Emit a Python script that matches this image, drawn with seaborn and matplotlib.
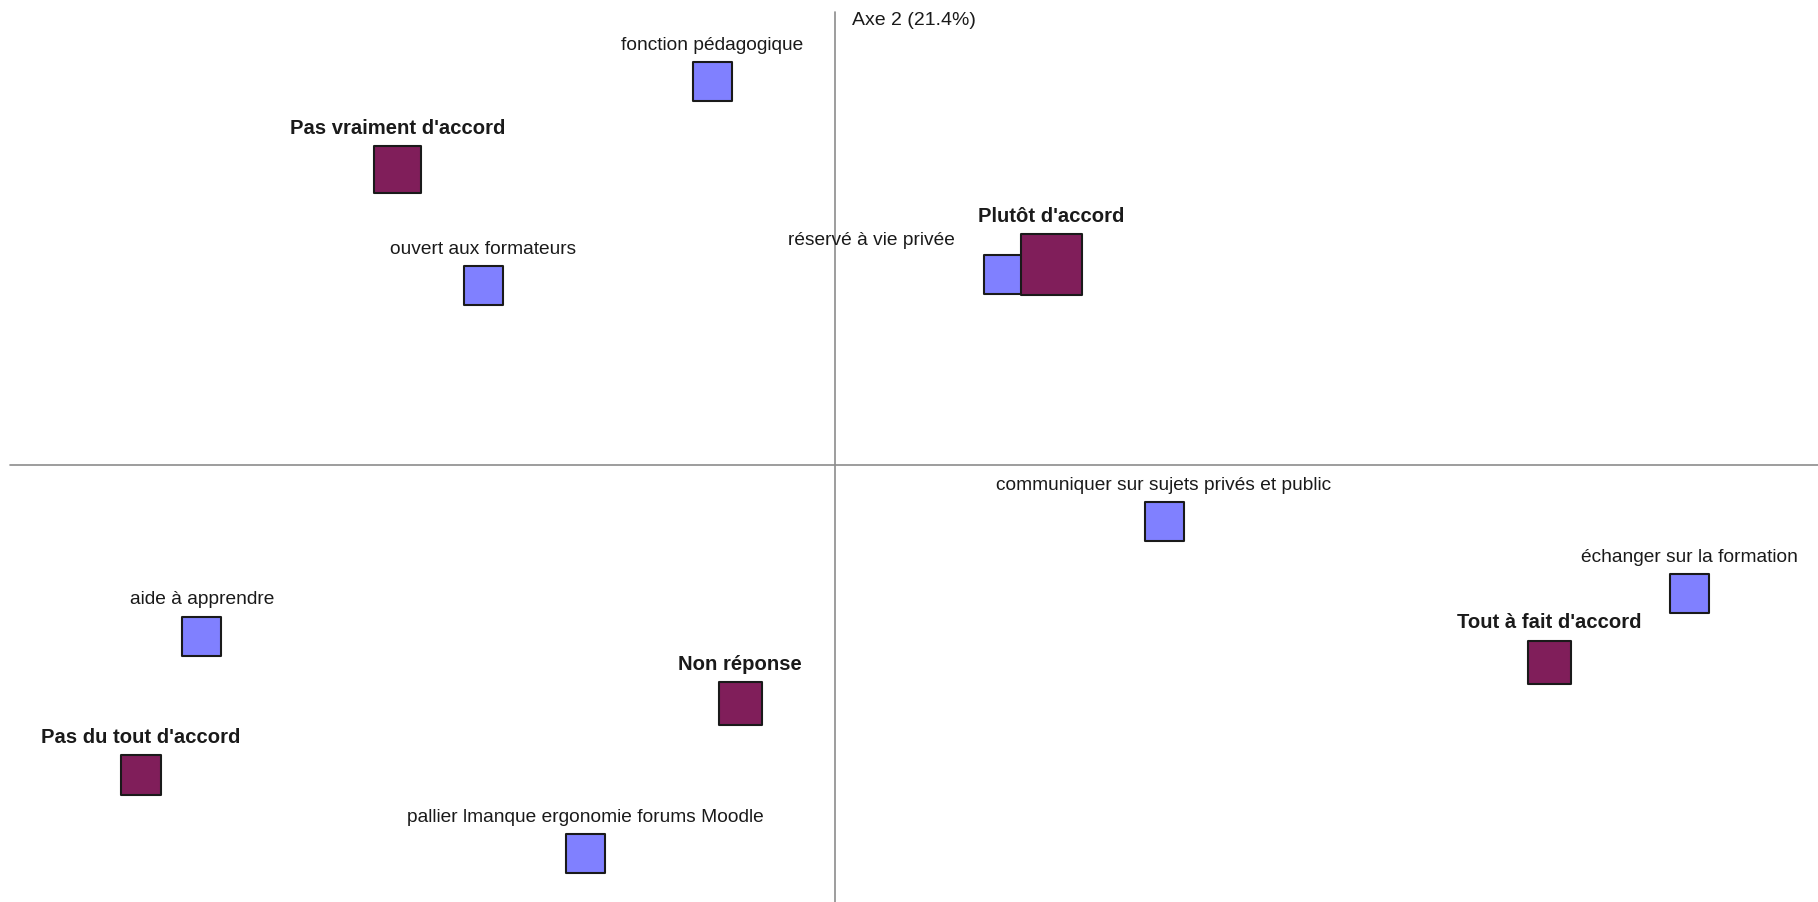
import pandas as pd
import seaborn as sns
import matplotlib.pyplot as plt

# coordonnées factorielles (axe 1 horizontal, axe 2 vertical)
labels = [
    "fonction pédagogique",
    "ouvert aux formateurs",
    "réservé à vie privée",
    "communiquer sur sujets privés et public",
    "échanger sur la formation",
    "aide à apprendre",
    "pallier lmanque ergonomie forums Moodle",
    "Pas vraiment d'accord",
    "Plutôt d'accord",
    "Tout à fait d'accord",
    "Non réponse",
    "Pas du tout d'accord",
]
axe1 = [-0.246, -0.704, 0.336, 0.658, 1.708, -1.266, -0.500,
        -0.874, 0.432, 1.428, -0.190, -1.388]
axe2 = [0.768, 0.360, 0.382, -0.112, -0.256, -0.342, -0.776,
        0.592, 0.402, -0.394, -0.476, -0.620]
groupe = ["modalité"] * 7 + ["réponse"] * 5
poids = [41, 41, 41, 41, 41, 41, 41, 49, 63, 45, 45, 42]

df = pd.DataFrame({"label": labels, "axe1": axe1, "axe2": axe2,
                   "groupe": groupe, "poids": poids})

sns.set_style("white")
plt.rcParams["font.family"] = ["Liberation Sans", "DejaVu Sans"]

px = 0.72  # points par pixel à 100 dpi

fig = plt.figure(figsize=(18.18, 9.02), dpi=100)
ax = fig.add_axes([0, 0, 1, 1])

ax.axhline(0, xmin=10 / 1818, color="#8c8c8c", lw=1.2, zorder=0)
ax.axvline(0, ymax=1 - 12 / 902, color="#8c8c8c", lw=1.2, zorder=0)

sizes = {w: ((w - 2) * px) ** 2 for w in set(poids)}
sns.scatterplot(
    data=df, x="axe1", y="axe2",
    hue="groupe", palette={"modalité": "#8080ff", "réponse": "#801e5a"},
    size="poids", sizes=sizes,
    marker="s", edgecolor="#1a1a1a", linewidth=1.5,
    legend=False, ax=ax, zorder=3,
)

for _, r in df.iterrows():
    bold = r["groupe"] == "réponse"
    if r["label"] == "réservé à vie privée":
        off, ha = (-48 * px, 25 * px), "right"
    else:
        off, ha = (0, (r["poids"] / 2 + 7) * px), "center"
    ax.annotate(r["label"], (r["axe1"], r["axe2"]), xytext=off,
                textcoords="offset points", ha=ha, va="bottom",
                fontsize=14.6 if bold else 13.8, color="#1a1a1a",
                fontweight="bold" if bold else "normal")

ax.annotate("Axe 2 (21.4%)", xy=(0, 1), xycoords=("data", "axes fraction"),
            xytext=(17 * px, -12 * px), textcoords="offset points",
            ha="left", va="top", fontsize=14, color="#1a1a1a")

ax.set_xlim(-835 / 500, 983 / 500)
ax.set_ylim(-437 / 500, 465 / 500)
ax.set_axis_off()

fig.savefig("out.png", dpi=100)
